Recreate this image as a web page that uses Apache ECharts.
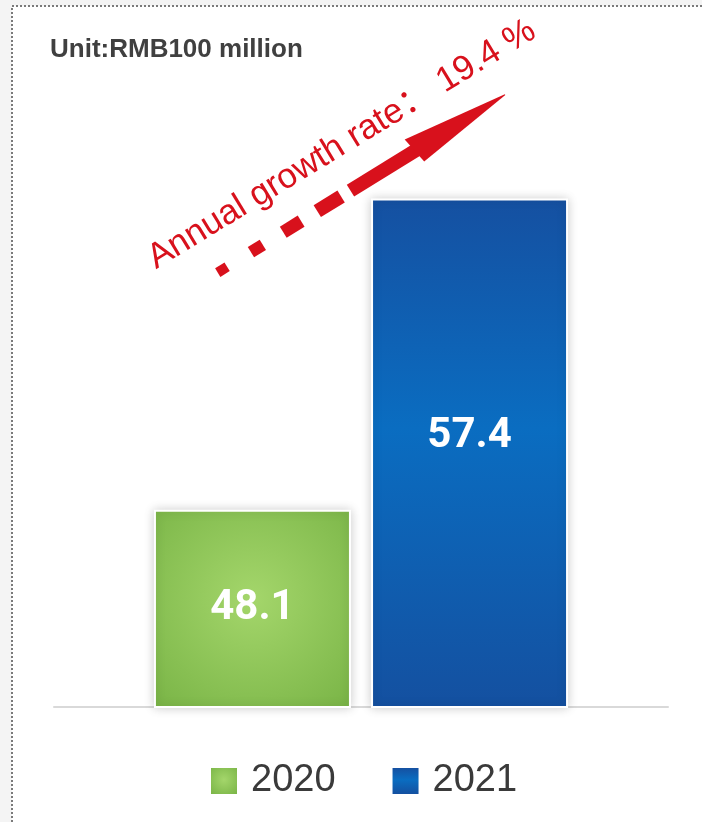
<!DOCTYPE html>
<html>
<head>
<meta charset="utf-8">
<script src="https://cdn.jsdelivr.net/npm/echarts@6/dist/echarts.min.js"></script>
<style>
  html, body { margin: 0; padding: 0; background: #f4f4f4; }
  #main { width: 702px; height: 822px; }
</style>
</head>
<body>
<div id="main"></div>
<script>
// data
let categories = [""];
let seriesNames = ["2020", "2021"];
let values2020 = [48.1];
let values2021 = [57.4];
let growthText = "Annual growth rate\uff1a 19.4 %";

let dom = document.getElementById("main");
let myChart = echarts.init(dom, null, { renderer: "canvas" });

let green = {
    type: "radial", x: 0.5, y: 0.45, r: 0.75,
    colorStops: [
        { offset: 0, color: "#a4d66b" },
        { offset: 1, color: "#79b446" },
    ],
};
let blue = {
    type: "linear", x: 0, y: 0, x2: 0, y2: 1,
    colorStops: [
        { offset: 0, color: "#1550a1" },
        { offset: 0.45, color: "#0a6dc1" },
        { offset: 1, color: "#1450a0" },
    ],
};
let barStyle = {
    borderColor: "#ffffff",
    borderWidth: 2,
    shadowBlur: 10,
    shadowColor: "rgba(0,0,0,0.18)",
};
let labelStyle = {
    show: true,
    position: "inside",
    color: "#ffffff",
    fontFamily: "Roboto",
    fontWeight: "bold",
    fontSize: 42,
};

// arrow, drawn along its own x axis then rotated
let arrowAngle = 31.7 * Math.PI / 180;
let red = "#d8111c";

let option = {
    backgroundColor: "#f4f4f4",
    animation: false,
    title: {
        text: "Unit:RMB100 million",
        left: 45,
        top: 32,
        textStyle: {
            fontFamily: "Liberation Sans",
            fontSize: 26,
            fontWeight: "bold",
            color: "#404040",
        },
    },
    legend: {
        data: seriesNames,
        left: 206,
        top: 757,
        itemWidth: 26,
        itemHeight: 26,
        itemGap: 57,
        icon: "rect",
        itemStyle: { borderWidth: 0, shadowBlur: 0 },
        textStyle: {
            fontFamily: "Liberation Sans",
            fontSize: 38,
            color: "#3a3a3a",
            padding: [0, 0, 0, 9],
        },
    },
    grid: { left: 54, right: 34, top: 38, bottom: 115 },
    xAxis: {
        type: "category",
        data: categories,
        axisLine: { lineStyle: { color: "#d9d9d9", width: 2 } },
        axisTick: { show: false },
        axisLabel: { show: false },
    },
    yAxis: {
        type: "value",
        min: 42.2,
        max: 62.2,
        show: false,
        splitLine: { show: false },
    },
    series: [
        {
            name: seriesNames[0],
            type: "bar",
            data: values2020,
            barWidth: 197,
            barGap: "10.2%",
            itemStyle: Object.assign({ color: green }, barStyle),
            label: labelStyle,
        },
        {
            name: seriesNames[1],
            type: "bar",
            data: values2021,
            barWidth: 197,
            itemStyle: Object.assign({ color: blue }, barStyle),
            label: Object.assign({ offset: [0, -17] }, labelStyle),
        },
    ],
    graphic: [
        {
            type: "rect",
            z: -10,
            silent: true,
            shape: { x: 12, y: 6, width: 720, height: 840 },
            style: { fill: "#ffffff", stroke: "#7a7a7a", lineWidth: 2, lineDash: [2, 2] },
        },
        {
            type: "group",
            x: 222,
            y: 270,
            rotation: arrowAngle,
            z: 20,
            children: [
                { type: "rect", shape: { x: -5, y: -5, width: 11, height: 10 }, style: { fill: red } },
                { type: "rect", shape: { x: 34, y: -6, width: 14, height: 12 }, style: { fill: red } },
                { type: "rect", shape: { x: 72, y: -6.5, width: 21, height: 13 }, style: { fill: red } },
                { type: "rect", shape: { x: 112, y: -7, width: 28, height: 14 }, style: { fill: red } },
                { type: "rect", shape: { x: 151, y: -7, width: 80, height: 14 }, style: { fill: red } },
                {
                    type: "polygon",
                    shape: { points: [[224, -15], [333, -1], [333, 0], [229, 14]] },
                    style: { fill: red },
                },
            ],
        },
        {
            type: "text",
            x: 160,
            y: 276,
            rotation: 31.4 * Math.PI / 180,
            z: 20,
            style: {
                text: growthText,
                fill: red,
                font: "35px 'Liberation Sans', 'Noto Sans CJK SC', sans-serif",
                align: "left",
                verticalAlign: "bottom",
            },
        },
    ],
};

if (option && typeof option === "object") {
    myChart.setOption(option);
}

window.addEventListener("resize", myChart.resize);
</script>
</body>
</html>
